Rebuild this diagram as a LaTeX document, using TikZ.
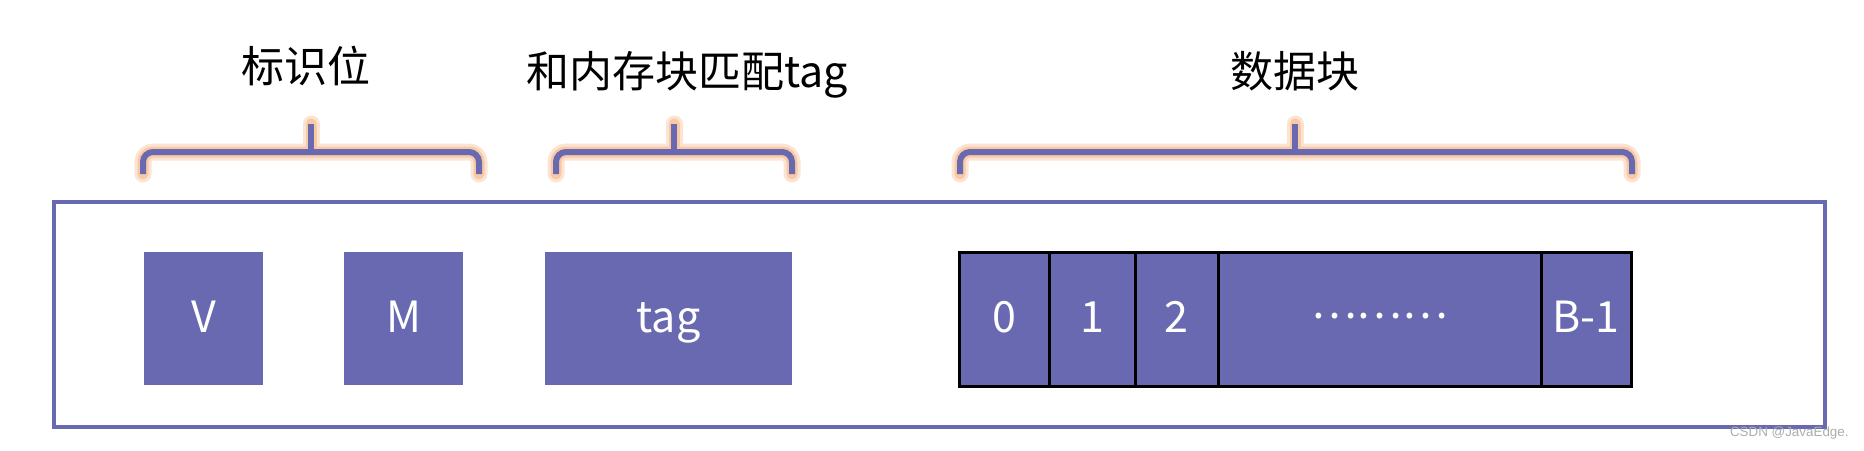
\documentclass[tikz,border=0pt]{standalone}
\usepackage{fontspec}
\setmainfont{Noto Sans CJK SC}
\setsansfont{Liberation Sans}
\usetikzlibrary{calc,positioning}

\definecolor{blockpurple}{RGB}{105,105,178}
\definecolor{glowout}{RGB}{252,228,210}
\definecolor{glowin}{RGB}{249,201,166}

\tikzset{
  field/.style={rectangle,fill=blockpurple,text=white,inner sep=0pt,
    font=\fontsize{21.5pt}{26pt}\selectfont,text height=16pt,text depth=2.5pt},
  cell/.style={field,draw=black,line width=1.5pt,minimum height=67pt},
  brace/.style={draw=blockpurple,line width=3pt,rounded corners=5pt},
  glowa/.style={draw=glowout,line width=8.5pt,rounded corners=5pt,line cap=round},
  glowb/.style={draw=glowin,line width=5.5pt,rounded corners=5pt,line cap=round},
  title/.style={anchor=base,inner sep=0pt,font=\fontsize{21.5pt}{26pt}\selectfont},
}

\begin{document}
\begin{tikzpicture}[x=.5pt,y=-.5pt]

  \useasboundingbox (0,0) rectangle (1864,450);

  \node (frame) [rectangle,draw=blockpurple,line width=2pt,inner sep=0pt,minimum width=885.5pt,minimum height=112.5pt] at(939.5,314.5) {};

  \node (valid) [field,minimum width=59.5pt,minimum height=66.5pt] at(203.5,318.5) {V};
  \node (modified) [field,minimum width=59.5pt,minimum height=66.5pt] at(403.5,318.5) {M};
  \node (tag) [field,minimum width=123.5pt,minimum height=66.5pt] at(668.5,318.5) {tag};

  \foreach \i/\l/\r/\txt in {0/959/1049/0,1/1049/1135/1,2/1135/1218/2,3/1218/1541/{\raisebox{7pt}{………}},4/1541/1631/B-1}
           {
             \node (cell_\i) [cell,minimum width={(\r-\l)*0.5pt}] at({(\l+\r)/2},319) {\txt};
           }

  \foreach \i/\l/\r/\t/\x/\y/\txt in {0/143/479/311/305.5/82/标识位,1/556/792/674/687/87/和内存块匹配tag,2/960/1632/1295/1294.5/87/数据块}
           {
             \coordinate (brl_\i) at(\l,174);
             \coordinate (brr_\i) at(\r,174);
             \coordinate (tip_\i) at(\t,124);
             \foreach \s in {glowa,glowb,brace}
                      {
                        \draw [\s] (brl_\i) |- ($(brr_\i)+(0,-22)$) -- (brr_\i);
                        \draw [\s] (tip_\i) -- ($(tip_\i)+(0,28)$);
                      }
             \node (title_\i) [title] at(\x,\y) {\txt};
           }

  \node (mark) [anchor=east,inner sep=0pt,text=gray!65,font=\sffamily\fontsize{6.7pt}{8pt}\selectfont] at(1849,433) {CSDN @JavaEdge.};

\end{tikzpicture}
\end{document}
